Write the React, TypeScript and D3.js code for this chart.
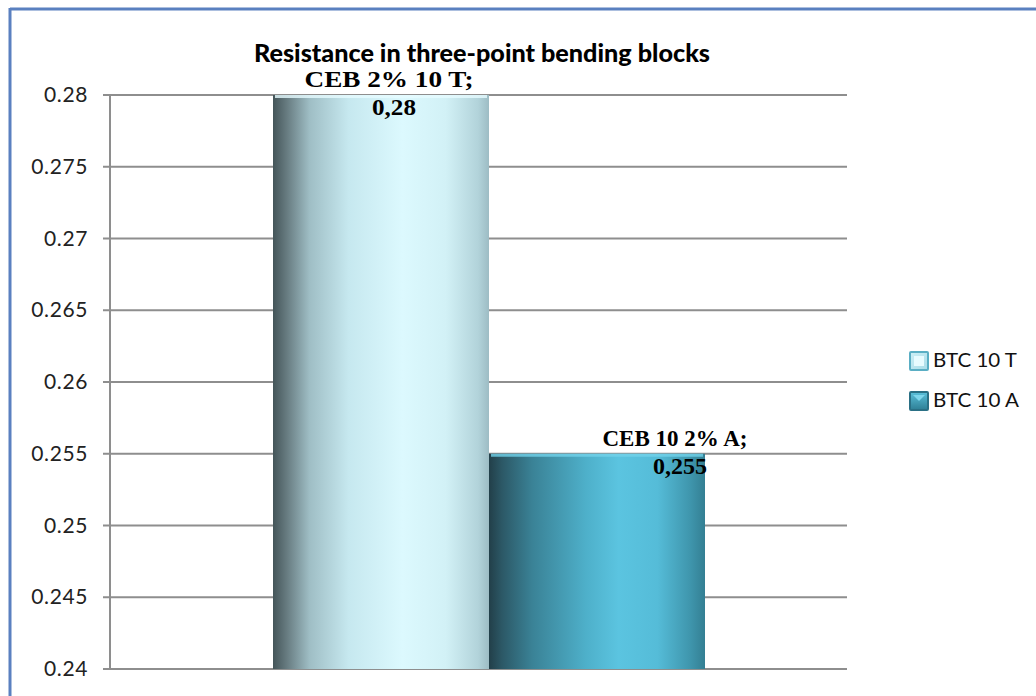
import React from "react";
import * as d3 from "d3";

const title = "Resistance in three-point bending blocks";
const categories = ["Resistance"];
const seriesNames = ["BTC 10 T", "BTC 10 A"];
const seriesValues = [0.28, 0.255];
const pointLabels = ["CEB 2% 10 T;", "CEB 10 2% A;"];
const valueLabels = ["0,28", "0,255"];
const yTicks = [0.24, 0.245, 0.25, 0.255, 0.26, 0.265, 0.27, 0.275, 0.28];
const yTickLabels = ["0.24", "0.245", "0.25", "0.255", "0.26", "0.265", "0.27", "0.275", "0.28"];

const W = 1036;
const H = 696;

export default function App() {
  const plotLeft = 110;
  const plotRight = 847;
  const y = d3.scaleLinear().domain([0.24, 0.28]).range([669, 95]);
  const xCat = d3.scaleBand().domain(categories).range([plotLeft, plotRight]).paddingInner(0).paddingOuter(0);
  const catStart = xCat(categories[0]) as number;
  const xSeries = d3
    .scaleBand()
    .domain(seriesNames)
    .range([catStart + 163, catStart + xCat.bandwidth() - 142])
    .padding(0);
  const bw = xSeries.bandwidth();

  const labelDx = [8, 78];
  const labelWidths = [169, 145];
  const valueWidths = [44, 54];

  const sans = "Lato, 'Open Sans', 'DejaVu Sans', sans-serif";
  const serif = "'Liberation Serif', 'Times New Roman', serif";

  return (
    <svg
      width={W}
      height={H}
      style={{ position: "absolute", left: 0, top: 0, display: "block", background: "#ffffff" }}
    >
      <defs>
        <linearGradient id="g0" x1="0" x2="1" y1="0" y2="0">
          <stop offset="0" stopColor="#445559" />
          <stop offset="0.06" stopColor="#65797e" />
          <stop offset="0.17" stopColor="#9fbec5" />
          <stop offset="0.35" stopColor="#c6e8ef" />
          <stop offset="0.6" stopColor="#dcf9fe" />
          <stop offset="0.8" stopColor="#d2f1f6" />
          <stop offset="0.95" stopColor="#b2d3da" />
          <stop offset="1" stopColor="#9dbcc4" />
        </linearGradient>
        <linearGradient id="g1" x1="0" x2="1" y1="0" y2="0">
          <stop offset="0" stopColor="#223f49" />
          <stop offset="0.06" stopColor="#2c5866" />
          <stop offset="0.2" stopColor="#3a8296" />
          <stop offset="0.45" stopColor="#4eb0ca" />
          <stop offset="0.6" stopColor="#5bc4e0" />
          <stop offset="0.78" stopColor="#55bcd8" />
          <stop offset="0.93" stopColor="#3f96ad" />
          <stop offset="1" stopColor="#347f93" />
        </linearGradient>
        <linearGradient id="lg0" x1="0" x2="1" y1="0" y2="1">
          <stop offset="0" stopColor="#cdeff6" />
          <stop offset="1" stopColor="#a8dbe8" />
        </linearGradient>
        <linearGradient id="lg1" x1="0" x2="0" y1="0" y2="1">
          <stop offset="0" stopColor="#5bc0da" />
          <stop offset="1" stopColor="#2e7f95" />
        </linearGradient>
      </defs>

      <line x1={10} x2={W} y1={9} y2={9} stroke="#5a80c0" strokeWidth={3} />
      <line x1={10} x2={10} y1={8} y2={H} stroke="#5a80c0" strokeWidth={3} />

      <text
        x={482}
        y={62}
        textAnchor="middle"
        fontFamily={sans}
        fontWeight="900"
        fontSize={24}
        fill="#000"
        textLength={456}
        lengthAdjust="spacingAndGlyphs"
      >
        {title}
      </text>

      {yTicks.map((t) => (
        <line
          key={"g" + t}
          x1={plotLeft - 7}
          x2={plotRight}
          y1={y(t)}
          y2={y(t)}
          stroke="#8e8e8e"
          strokeWidth={2}
        />
      ))}
      <line x1={plotLeft} x2={plotLeft} y1={y(0.28)} y2={y(0.24)} stroke="#8e8e8e" strokeWidth={2} />

      {yTicks.map((t, i) => (
        <text
          key={"t" + t}
          x={88}
          y={y(t) + 7}
          textAnchor="end"
          fontFamily={sans}
          fontSize={21}
          letterSpacing={0.6}
          fill="#222"
        >
          {yTickLabels[i]}
        </text>
      ))}

      {seriesNames.map((s, i) => {
        const x0 = xSeries(s) as number;
        const yTop = y(seriesValues[i]);
        const yBase = y(0.24);
        return (
          <g key={s}>
            <rect x={x0} y={yTop} width={bw} height={yBase - yTop} fill={`url(#g${i})`} />
            <rect
              x={x0 + 2}
              y={yTop}
              width={bw - 4}
              height={3}
              fill={i === 0 ? "#e6fbff" : "#72d2ea"}
              opacity={0.8}
            />
          </g>
        );
      })}

      {seriesNames.map((s, i) => {
        const cx = (xSeries(s) as number) + bw / 2 + labelDx[i];
        const yTop = y(seriesValues[i]);
        return (
          <g key={"l" + s} fontFamily={serif} fontWeight="bold" fontSize={23} fill="#000">
            <text
              x={cx}
              y={yTop - 8}
              textAnchor="middle"
              textLength={labelWidths[i]}
              lengthAdjust="spacingAndGlyphs"
            >
              {pointLabels[i]}
            </text>
            <text
              x={cx + 5}
              y={yTop + 20}
              textAnchor="middle"
              textLength={valueWidths[i]}
              lengthAdjust="spacingAndGlyphs"
            >
              {valueLabels[i]}
            </text>
          </g>
        );
      })}

      {seriesNames.map((s, i) => {
        const ly = 352 + i * 40;
        return (
          <g key={"lg" + s}>
            <rect
              x={910}
              y={ly}
              width={18}
              height={18}
              fill={`url(#lg${i})`}
              stroke={i === 0 ? "#5aaec4" : "#2a7085"}
              strokeWidth={2}
              rx={1}
            />
            {i === 0 ? (
              <rect x={914} y={ly + 4} width={10} height={10} fill="#e8fbff" />
            ) : (
              <path d={`M913,${ly + 3} L925,${ly + 3} L919,${ly + 9} Z`} fill="#7fd6ec" />
            )}
            <text
              x={933}
              y={ly + 15}
              fontFamily={sans}
              fontSize={19}
              fill="#111"
              textLength={i === 0 ? 84 : 86}
              lengthAdjust="spacingAndGlyphs"
            >
              {s}
            </text>
          </g>
        );
      })}
    </svg>
  );
}
